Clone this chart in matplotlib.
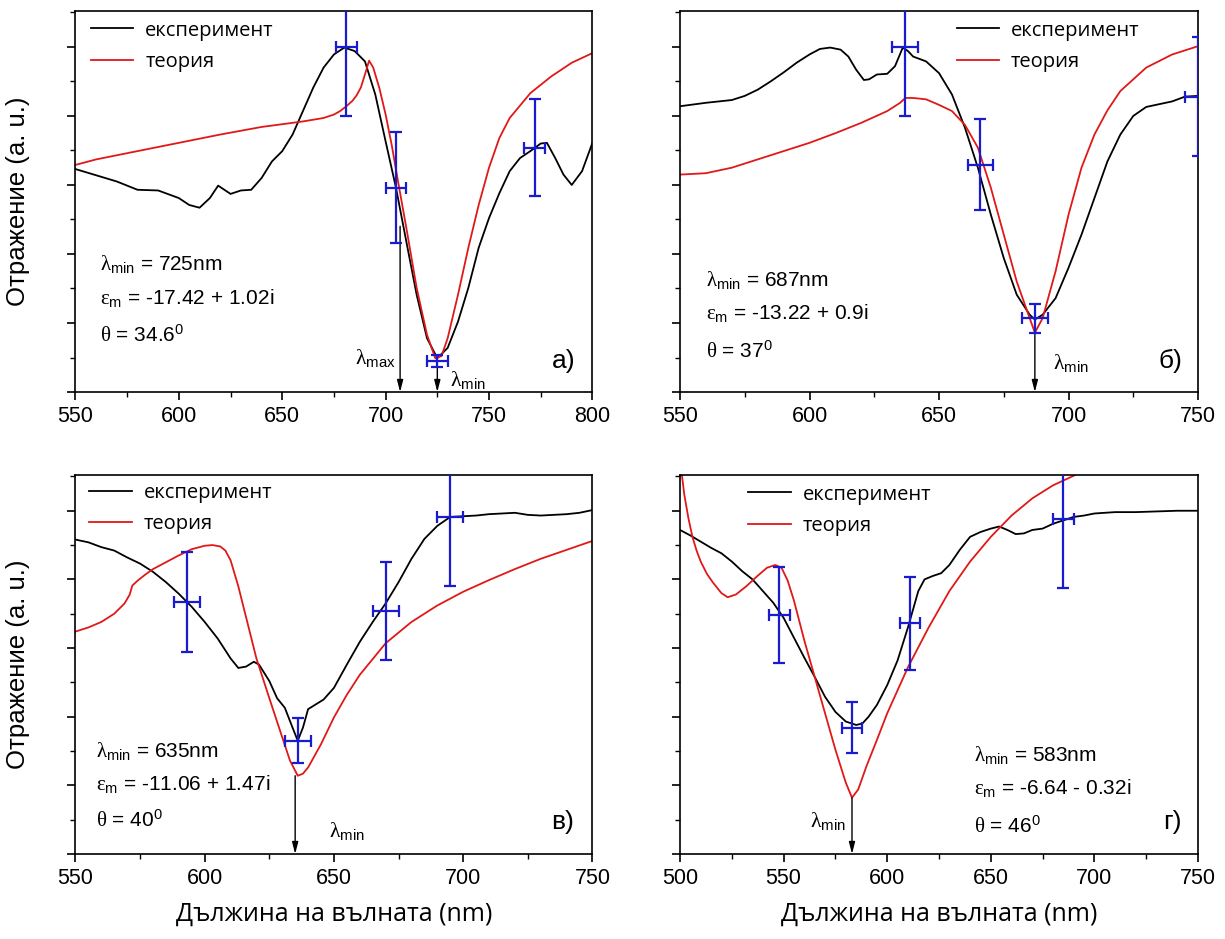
import numpy as np
import matplotlib
matplotlib.use("Agg")
import matplotlib.pyplot as plt
from matplotlib.ticker import MultipleLocator

plt.rcParams['font.family'] = ['Liberation Sans', 'DejaVu Sans']
plt.rcParams['mathtext.fontset'] = 'custom'
plt.rcParams['mathtext.rm'] = 'Liberation Serif'
plt.rcParams['mathtext.sf'] = 'Liberation Sans'
plt.rcParams['mathtext.it'] = 'Liberation Serif:italic'

# ---------------- panel a) ----------------
a_exp_x = [550, 570, 580, 590, 600, 605, 610, 615, 619, 625, 630, 635, 640, 645, 650, 655, 660, 665,
           670, 675, 680, 685, 690, 695, 700, 705, 710, 715, 720, 725, 730, 735, 740, 745, 750, 755,
           760, 765, 770, 775, 778, 782, 786, 790, 795, 800]
a_exp_y = [3.23, 3.05, 2.93, 2.92, 2.81, 2.71, 2.67, 2.81, 2.99, 2.87, 2.92, 2.93, 3.10, 3.34, 3.49, 3.73,
           4.07, 4.41, 4.70, 4.89, 4.99, 4.94, 4.79, 4.31, 3.63, 2.96, 2.18, 1.41, 0.78, 0.49, 0.64, 1.02,
           1.51, 2.09, 2.52, 2.88, 3.20, 3.39, 3.49, 3.60, 3.61, 3.39, 3.15, 3.00, 3.20, 3.61]
a_th_x = [550, 560, 580, 600, 620, 640, 660, 670, 675, 678, 681, 684, 686, 688, 690, 692, 694, 697,
          700, 703, 706, 710, 715, 720, 724, 727, 730, 735, 740, 745, 750, 755, 760, 770, 780, 790, 800]
a_th_y = [3.29, 3.37, 3.49, 3.61, 3.73, 3.84, 3.92, 3.97, 4.02, 4.07, 4.14, 4.22, 4.30, 4.41, 4.60, 4.80,
          4.70, 4.40, 4.02, 3.57, 3.05, 2.38, 1.51, 0.83, 0.49, 0.52, 0.78, 1.41, 2.09, 2.71, 3.25, 3.68,
          3.97, 4.33, 4.57, 4.77, 4.91]
a_err_x = [681, 705, 725, 772]
a_err_y = [5.0, 2.96, 0.45, 3.54]
a_err_dy = [1.0, 0.8, 0.09, 0.7]

# ---------------- panel б) ----------------
b_exp_x = [550, 560, 570, 575, 580, 585, 590, 595, 600, 604, 608, 612, 615, 618, 621, 623, 626, 630,
           633, 636, 638, 640, 645, 650, 655, 660, 665, 670, 675, 680, 685, 687, 690, 695, 700, 705,
           710, 715, 720, 725, 730, 735, 740, 745, 750]
b_exp_y = [4.14, 4.19, 4.23, 4.29, 4.38, 4.50, 4.63, 4.77, 4.89, 4.97, 4.99, 4.96, 4.86, 4.67, 4.52, 4.53,
           4.60, 4.61, 4.72, 4.99, 4.94, 4.86, 4.79, 4.62, 4.31, 3.83, 3.25, 2.57, 1.94, 1.41, 1.12, 1.05,
           1.12, 1.36, 1.80, 2.28, 2.81, 3.34, 3.73, 4.00, 4.13, 4.17, 4.21, 4.28, 4.29]
b_th_x = [550, 560, 570, 580, 590, 600, 610, 620, 630, 635, 637, 640, 645, 650, 655, 660, 665, 670,
          675, 680, 685, 687, 690, 695, 700, 705, 710, 715, 720, 730, 740, 750]
b_th_y = [3.15, 3.17, 3.25, 3.37, 3.49, 3.61, 3.75, 3.90, 4.07, 4.19, 4.26, 4.26, 4.24, 4.16, 4.07, 3.87,
          3.54, 2.96, 2.28, 1.60, 1.07, 0.86, 1.07, 1.75, 2.57, 3.25, 3.73, 4.08, 4.36, 4.70, 4.89, 5.01]
b_err_x = [637, 666, 687, 750]
b_err_y = [5.0, 3.29, 1.07, 4.28]
b_err_dy = [1.0, 0.66, 0.21, 0.86]

# ---------------- panel в) ----------------
c_exp_x = [550, 555, 560, 565, 570, 575, 580, 585, 590, 595, 600, 605, 610, 613, 616, 619, 621, 625,
           628, 631, 634, 636, 638, 640, 643, 646, 650, 655, 660, 665, 670, 675, 680, 685, 690, 695,
           700, 705, 710, 715, 720, 725, 730, 735, 740, 745, 750]
c_exp_y = [4.58, 4.54, 4.47, 4.42, 4.32, 4.23, 4.11, 3.96, 3.79, 3.60, 3.38, 3.14, 2.85, 2.71, 2.73, 2.80,
           2.76, 2.52, 2.27, 2.13, 1.84, 1.65, 1.84, 2.11, 2.18, 2.25, 2.42, 2.76, 3.09, 3.38, 3.65, 3.96,
           4.30, 4.59, 4.78, 4.91, 4.92, 4.93, 4.95, 4.96, 4.97, 4.94, 4.93, 4.94, 4.95, 4.97, 5.01]
c_th_x = [550, 555, 560, 565, 569, 571, 572, 574, 577, 580, 585, 590, 595, 600, 603, 606, 608, 610,
          613, 616, 620, 625, 630, 633, 636, 638, 640, 645, 650, 655, 660, 670, 680, 690, 700, 710, 720,
          730, 740, 750]
c_th_y = [3.24, 3.30, 3.38, 3.50, 3.65, 3.78, 3.91, 3.98, 4.07, 4.15, 4.25, 4.35, 4.44, 4.49, 4.50, 4.48,
          4.42, 4.28, 3.90, 3.45, 2.85, 2.27, 1.70, 1.36, 1.14, 1.17, 1.26, 1.60, 1.99, 2.32, 2.61, 3.07,
          3.38, 3.62, 3.82, 3.99, 4.15, 4.30, 4.43, 4.56]
c_err_x = [593, 636, 670, 695]
c_err_y = [3.67, 1.65, 3.54, 4.91]
c_err_dy = [0.73, 0.33, 0.72, 1.0]

# ---------------- panel г) ----------------
d_exp_x = [500, 505, 510, 515, 520, 525, 530, 535, 540, 545, 550, 555, 560, 565, 570, 575, 580, 585,
           588, 591, 595, 600, 605, 610, 615, 618, 622, 626, 630, 635, 640, 645, 650, 654, 658, 662,
           666, 670, 675, 680, 685, 690, 695, 700, 710, 720, 730, 740, 750]
d_exp_y = [4.72, 4.64, 4.55, 4.46, 4.38, 4.26, 4.12, 4.00, 3.83, 3.66, 3.44, 3.15, 2.86, 2.58, 2.29, 2.07,
           1.93, 1.88, 1.90, 2.00, 2.17, 2.46, 2.82, 3.30, 3.83, 4.00, 4.05, 4.09, 4.21, 4.43, 4.62, 4.69,
           4.74, 4.77, 4.72, 4.66, 4.67, 4.72, 4.74, 4.81, 4.86, 4.91, 4.93, 4.96, 4.98, 4.98, 4.99, 5.00, 5.00]
d_th_x = [500, 502, 504, 506, 508, 510, 513, 516, 520, 523, 527, 532, 537, 542, 546, 549, 552, 555,
          560, 565, 570, 575, 580, 583, 586, 590, 595, 600, 610, 620, 630, 640, 650, 660, 670, 680, 690, 695]
d_th_y = [5.75, 5.25, 4.90, 4.62, 4.42, 4.26, 4.08, 3.95, 3.80, 3.74, 3.78, 3.90, 4.04, 4.17, 4.21, 4.17,
          3.98, 3.69, 3.11, 2.58, 2.05, 1.52, 1.04, 0.82, 0.94, 1.28, 1.66, 2.05, 2.72, 3.30, 3.83, 4.26,
          4.62, 4.93, 5.18, 5.37, 5.51, 5.60]
d_err_x = [548, 583, 611, 685]
d_err_y = [3.48, 1.84, 3.36, 4.88]
d_err_dy = [0.7, 0.37, 0.68, 1.0]

err_dx = 5  # nm, horizontal error for all points

panels = [
    dict(exp=(a_exp_x, a_exp_y), th=(a_th_x, a_th_y), err=(a_err_x, a_err_y, a_err_dy),
         xlim=(550, 800), tag="а)", tag_xy=(792, 0.45),
         info=["$\\mathrm{\\lambda}_{\\mathsf{min}}$ = 725nm", "$\\mathrm{\\epsilon}_{\\mathsf{m}}$ = -17.42 + 1.02i",
               "$\\mathrm{\\theta}$ = 34.6$^{\\mathsf{0}}$"],
         info_xy=(562, [1.85, 1.36, 0.83]),
         arrows=[(707, 2.40, "$\\mathrm{\\lambda}_{\\mathsf{max}}$", (705, 0.5), "right"),
                 (725, 0.47, "$\\mathrm{\\lambda}_{\\mathsf{min}}$", (731, 0.18), "left")],
         leg=(0.030, 0.975)),
    dict(exp=(b_exp_x, b_exp_y), th=(b_th_x, b_th_y), err=(b_err_x, b_err_y, b_err_dy),
         xlim=(550, 750), tag="б)", tag_xy=(744, 0.45),
         info=["$\\mathrm{\\lambda}_{\\mathsf{min}}$ = 687nm", "$\\mathrm{\\epsilon}_{\\mathsf{m}}$ = -13.22 + 0.9i",
               "$\\mathrm{\\theta}$ = 37$^{\\mathsf{0}}$"],
         info_xy=(560, [1.63, 1.14, 0.59]),
         arrows=[(687, 0.86, "$\\mathrm{\\lambda}_{\\mathsf{min}}$", (694, 0.42), "left")],
         leg=(0.534, 0.975)),
    dict(exp=(c_exp_x, c_exp_y), th=(c_th_x, c_th_y), err=(c_err_x, c_err_y, c_err_dy),
         xlim=(550, 750), tag="в)", tag_xy=(743, 0.47),
         info=["$\\mathrm{\\lambda}_{\\mathsf{min}}$ = 635nm", "$\\mathrm{\\epsilon}_{\\mathsf{m}}$ = -11.06 + 1.47i",
               "$\\mathrm{\\theta}$ = 40$^{\\mathsf{0}}$"],
         info_xy=(558, [1.50, 1.02, 0.49]),
         arrows=[(635, 1.14, "$\\mathrm{\\lambda}_{\\mathsf{min}}$", (648, 0.33), "left")],
         leg=(0.027, 0.98)),
    dict(exp=(d_exp_x, d_exp_y), th=(d_th_x, d_th_y), err=(d_err_x, d_err_y, d_err_dy),
         xlim=(500, 750), tag="г)", tag_xy=(742, 0.46),
         info=["$\\mathrm{\\lambda}_{\\mathsf{min}}$ = 583nm", "$\\mathrm{\\epsilon}_{\\mathsf{m}}$ = -6.64 - 0.32i",
               "$\\mathrm{\\theta}$ = 46$^{\\mathsf{0}}$"],
         info_xy=(642, [1.44, 0.96, 0.41]),
         arrows=[(583, 0.82, "$\\mathrm{\\lambda}_{\\mathsf{min}}$", (580, 0.48), "right")],
         leg=(0.132, 0.975)),
]

fig = plt.figure(figsize=(12.25, 9.39), dpi=100)
rects = [
    [0.0616, 0.5825, 0.4220, 0.4058],
    [0.5551, 0.5825, 0.4229, 0.4058],
    [0.0616, 0.0905, 0.4220, 0.4036],
    [0.5551, 0.0905, 0.4229, 0.4036],
]

for i, (p, r) in enumerate(zip(panels, rects)):
    ax = fig.add_axes(r)
    ax.plot(*p["exp"], color="black", lw=1.3, label="експеримент")
    ax.plot(*p["th"], color="#e01818", lw=1.3, label="теория")
    ex, ey, edy = p["err"]
    ax.errorbar(ex, ey, xerr=err_dx, yerr=edy, fmt="none", ecolor="#1a1ad0",
                elinewidth=1.6, capsize=4, capthick=1.6, zorder=4)
    for (ax_x, y0, lab, lab_xy, ha) in p["arrows"]:
        ax.annotate("", xy=(ax_x, 0), xytext=(ax_x, y0),
                    arrowprops=dict(arrowstyle="-|>,head_width=0.18,head_length=0.7",
                                    color="black", lw=1.0, shrinkA=0, shrinkB=0))
        ax.text(lab_xy[0], lab_xy[1], lab, ha=ha, va="center", fontsize=15.5)
    for txt, yy in zip(p["info"], p["info_xy"][1]):
        ax.text(p["info_xy"][0], yy, txt, ha="left", va="center", fontsize=15)
    ax.text(p["tag_xy"][0], p["tag_xy"][1], p["tag"], ha="right", va="center", fontsize=19)

    ax.set_xlim(*p["xlim"])
    ax.set_ylim(0, 5.52)
    ax.xaxis.set_major_locator(MultipleLocator(50))
    ax.xaxis.set_minor_locator(MultipleLocator(25))
    ax.yaxis.set_major_locator(MultipleLocator(1))
    ax.yaxis.set_minor_locator(MultipleLocator(0.5))
    ax.tick_params(axis="both", which="major", direction="out", length=6, width=1.2,
                   labelsize=15.5, pad=4)
    ax.tick_params(axis="both", which="minor", direction="out", length=3.5, width=1.0)
    ax.tick_params(axis="y", labelleft=False)
    for s in ax.spines.values():
        s.set_linewidth(1.2)

    ax.legend(loc="upper left", bbox_to_anchor=p["leg"], frameon=False, borderpad=0,
              borderaxespad=0, handlelength=2.1, handletextpad=0.6, labelspacing=0.55,
              prop=dict(family="Open Sans", size=14.5))

    if i % 2 == 0:
        ax.set_ylabel("Отражение (а. u.)", fontsize=18.5)
        ax.yaxis.set_label_coords(-0.087, 0.5)
    if i >= 2:
        ax.set_xlabel("Дължина на вълната (nm)", family="Open Sans", fontsize=18, labelpad=9)

fig.savefig("out.png", dpi=100)
